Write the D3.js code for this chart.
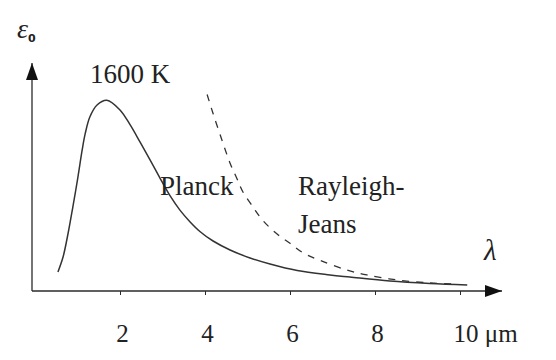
<!DOCTYPE html>
<html>
<head>
<meta charset="utf-8">
<script src="https://cdn.jsdelivr.net/npm/d3@7"></script>
<style>
  html, body { margin: 0; padding: 0; background: #fff; }
  svg { display: block; }
  text { font-family: "Liberation Serif", "Times New Roman", Tinos, "DejaVu Serif", "Noto Serif", serif; fill: #222; }
</style>
</head>
<body>
<svg id="chart" width="556" height="360"></svg>
<script>
// wavelength in micrometres, emissive power in arbitrary units (peak ~1)
const planckLambda = [0.54, 0.66, 0.78, 0.89, 1.01, 1.11, 1.18, 1.29, 1.46, 1.69, 2.00, 2.24, 2.47, 2.71, 2.94, 3.18, 3.41, 3.65, 3.88, 4.19, 4.59, 5.06, 5.53, 6.17, 6.94, 7.41, 8.35, 9.29, 10.17];
const planckValue  = [0.10, 0.178, 0.304, 0.44, 0.597, 0.739, 0.823, 0.912, 0.975, 1.00, 0.949, 0.87, 0.781, 0.686, 0.592, 0.498, 0.424, 0.362, 0.312, 0.262, 0.215, 0.173, 0.141, 0.107, 0.084, 0.073, 0.052, 0.039, 0.031];
const rjLambda = [4.05, 4.19, 4.40, 4.59, 4.75, 4.89, 5.13, 5.36, 5.69, 6.00, 6.31, 6.71, 7.34, 7.81, 8.52, 9.29, 9.81];
const rjValue  = [1.03, 0.93, 0.79, 0.67, 0.59, 0.52, 0.44, 0.37, 0.30, 0.25, 0.20, 0.16, 0.11, 0.084, 0.058, 0.042, 0.037];
const tickValues = [2, 4, 6, 8, 10];
const tickLabels = ["2", "4", "6", "8", "10 μm"];
const curveLabels = ["1600 K", "Planck", "Rayleigh-", "Jeans"];

const serif = '"Liberation Serif", "Times New Roman", Tinos, "DejaVu Serif", "Noto Serif", serif';
const svg = d3.select("#chart");
const x = d3.scaleLinear().domain([0, 10]).range([35, 460]);
const y = d3.scaleLinear().domain([0, 1.2]).range([291, 62]);

const ink = "#2a2a2a";
const x0 = 32, yAxisBase = 291;

const defs = svg.append("defs");
defs.append("marker").attr("id", "arrow")
  .attr("viewBox", "0 0 17 12").attr("refX", 17).attr("refY", 6)
  .attr("markerWidth", 17).attr("markerHeight", 12)
  .attr("markerUnits", "userSpaceOnUse").attr("orient", "auto")
  .append("path").attr("d", "M0,0 L17,6 L0,12 Z").attr("fill", "#111");

svg.append("line").attr("x1", x0).attr("x2", 502)
  .attr("y1", yAxisBase).attr("y2", yAxisBase)
  .attr("stroke", ink).attr("stroke-width", 1.3).attr("marker-end", "url(#arrow)");
svg.append("line").attr("x1", x0).attr("x2", x0)
  .attr("y1", yAxisBase).attr("y2", 63)
  .attr("stroke", ink).attr("stroke-width", 1.3).attr("marker-end", "url(#arrow)");

const axis = d3.axisBottom(x).tickValues(tickValues).tickSize(4)
  .tickFormat((d, i) => tickLabels[i]);
const gx = svg.append("g").attr("transform", `translate(0,${yAxisBase})`).call(axis);
gx.attr("font-family", null).attr("font-size", null);
gx.select(".domain").remove();
gx.selectAll(".tick line").attr("stroke", ink).attr("stroke-width", 1);
gx.selectAll(".tick text")
  .attr("y", 51).attr("dy", 0)
  .style("font-family", serif)
  .style("font-size", "25px").attr("fill", "#222")
  .attr("text-anchor", (d) => d === 10 ? "start" : "middle")
  .attr("dx", (d) => d === 10 ? -7 : 2);

const line = d3.line().x(d => x(d[0])).y(d => y(d[1])).curve(d3.curveCatmullRom.alpha(0.5));
const planck = planckLambda.map((l, i) => [l, planckValue[i]]);
const rj = rjLambda.map((l, i) => [l, rjValue[i]]);

svg.append("path").datum(rj).attr("d", line)
  .attr("fill", "none").attr("stroke", "#333").attr("stroke-width", 1.3)
  .attr("stroke-dasharray", "7,7");
svg.append("path").datum(planck).attr("d", line)
  .attr("fill", "none").attr("stroke", "#333").attr("stroke-width", 1.5);

const fs = 27;
const lab = (t, px, py) => svg.append("text").attr("x", px).attr("y", py)
  .style("font-family", serif).style("font-size", fs + "px").text(t);
lab(curveLabels[0], 90, 83);
lab(curveLabels[1], 160, 195);
lab(curveLabels[2], 298, 195);
lab(curveLabels[3], 298, 233);

svg.append("text").attr("x", 17).attr("y", 38)
  .style("font-family", serif)
  .style("font-size", "28px").style("font-style", "italic").text("ε");
svg.append("text").attr("x", 28).attr("y", 42)
  .style("font-family", '"DejaVu Sans", sans-serif')
  .style("font-size", "11px").style("font-weight", "bold").attr("fill", "#000").text("0");
svg.append("text").attr("x", 484).attr("y", 260)
  .style("font-family", serif)
  .style("font-size", "29px").style("font-style", "italic").text("λ");
</script>
</body>
</html>
